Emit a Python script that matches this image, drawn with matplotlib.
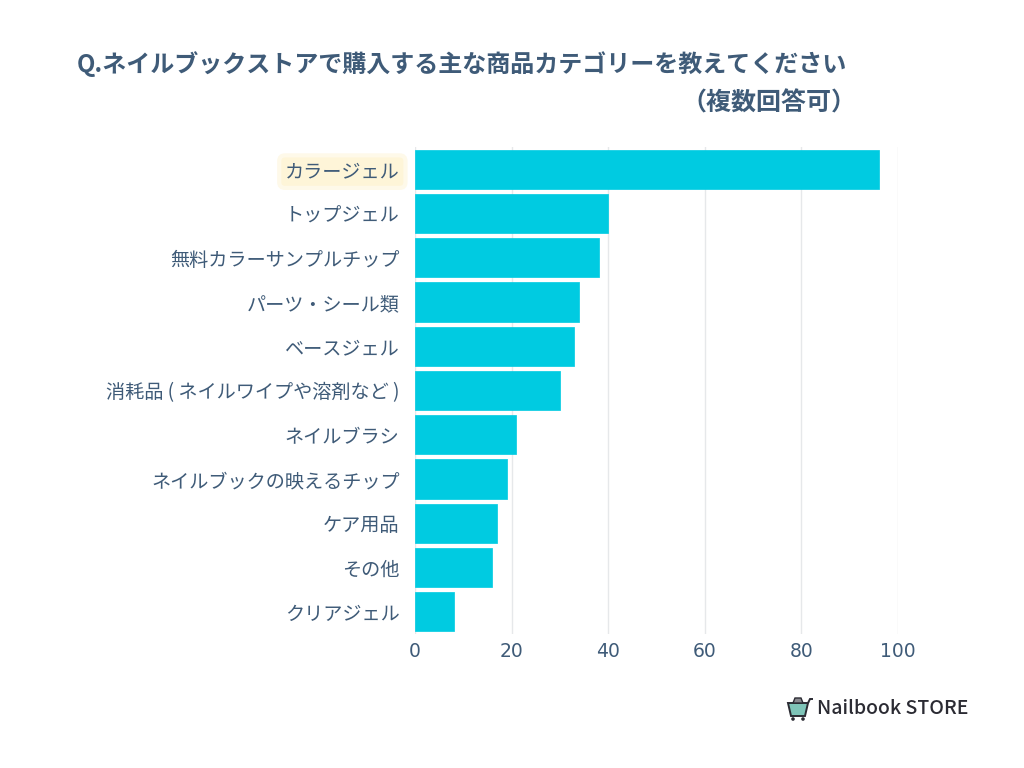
import matplotlib
matplotlib.use('Agg')
import matplotlib.pyplot as plt
from matplotlib.patches import Polygon, Circle

plt.rcParams['font.family'] = ['Noto Sans CJK JP', 'DejaVu Sans']

categories = ['カラージェル', 'トップジェル', '無料カラーサンプルチップ', 'パーツ・シール類', 'ベースジェル',
              '消耗品 ( ネイルワイプや溶剤など )', 'ネイルブラシ', 'ネイルブックの映えるチップ', 'ケア用品', 'その他', 'クリアジェル']
values = [96, 40, 38, 34, 33, 30, 21, 19, 17, 16, 8]
xticks = [0, 20, 40, 60, 80, 100]

textcol = '#3f5b78'

fig = plt.figure(figsize=(10.24, 7.68), dpi=100)
ax = fig.add_axes([415/1024, 1-634/768, (898-415)/1024, (634-147)/768])

ax.barh(categories, values, height=0.885, color='#00cbe1', edgecolor='#00cbe1', lw=0.5,
        joinstyle='round', zorder=3)
ax.set_ylim(len(categories)-0.5, -0.5)
ax.set_xlim(0, 100)
ax.set_xticks(xticks)
ax.xaxis.grid(True, color='#e6e8ea', lw=1, zorder=0)
ax.set_axisbelow(True)
for s in ax.spines.values():
    s.set_visible(False)
ax.tick_params(axis='both', length=0, labelcolor=textcol)
ax.tick_params(axis='y', pad=11, labelsize=13.8)
ax.tick_params(axis='x', pad=6, labelsize=13.5)
for t in ax.get_xticklabels():
    t.set_family('DejaVu Sans')

# highlight the first label
ax.get_yticklabels()[0].set_bbox(dict(boxstyle='round,pad=0.3', fc='#fef5d8', ec='#fef9e9', lw=3))

fig.text(77/1024, 1-64/768, 'Q.ネイルブックストアで購入する主な商品カテゴリーを教えてください',
         fontsize=17.3, fontweight='bold', color=textcol, ha='left', va='center')
fig.text(856/1024, 1-103/768, '（複数回答可）', fontsize=18, fontweight='bold',
         color=textcol, ha='right', va='center')

# logo: cart + name
def px(x, y):
    return (x/1024, 1-y/768)
fig.add_artist(Polygon([px(788, 703), px(808, 703), px(805, 716), px(791, 716)], closed=True,
                       fc='#7fc4b8', ec='#2b2b33', lw=1.4, transform=fig.transFigure))
fig.add_artist(Polygon([px(808, 703), px(810, 699), px(813, 699)], closed=False, fill=False,
                       ec='#2b2b33', lw=1.4, transform=fig.transFigure))
fig.add_artist(Polygon([px(793, 703), px(795, 698), px(801, 698), px(803, 703)], closed=True,
                       fc='#8a8a90', ec='#2b2b33', lw=1, transform=fig.transFigure))
for cx in (793, 803):
    fig.add_artist(Circle((cx, 768-719), 1.8, fc='#2b2b33', ec='none', transform=None))
fig.text(817/1024, 1-708/768, 'Nailbook STORE', fontsize=14, fontweight='medium',
         color='#2b2b33', ha='left', va='center')

fig.savefig('out.png', dpi=100)
